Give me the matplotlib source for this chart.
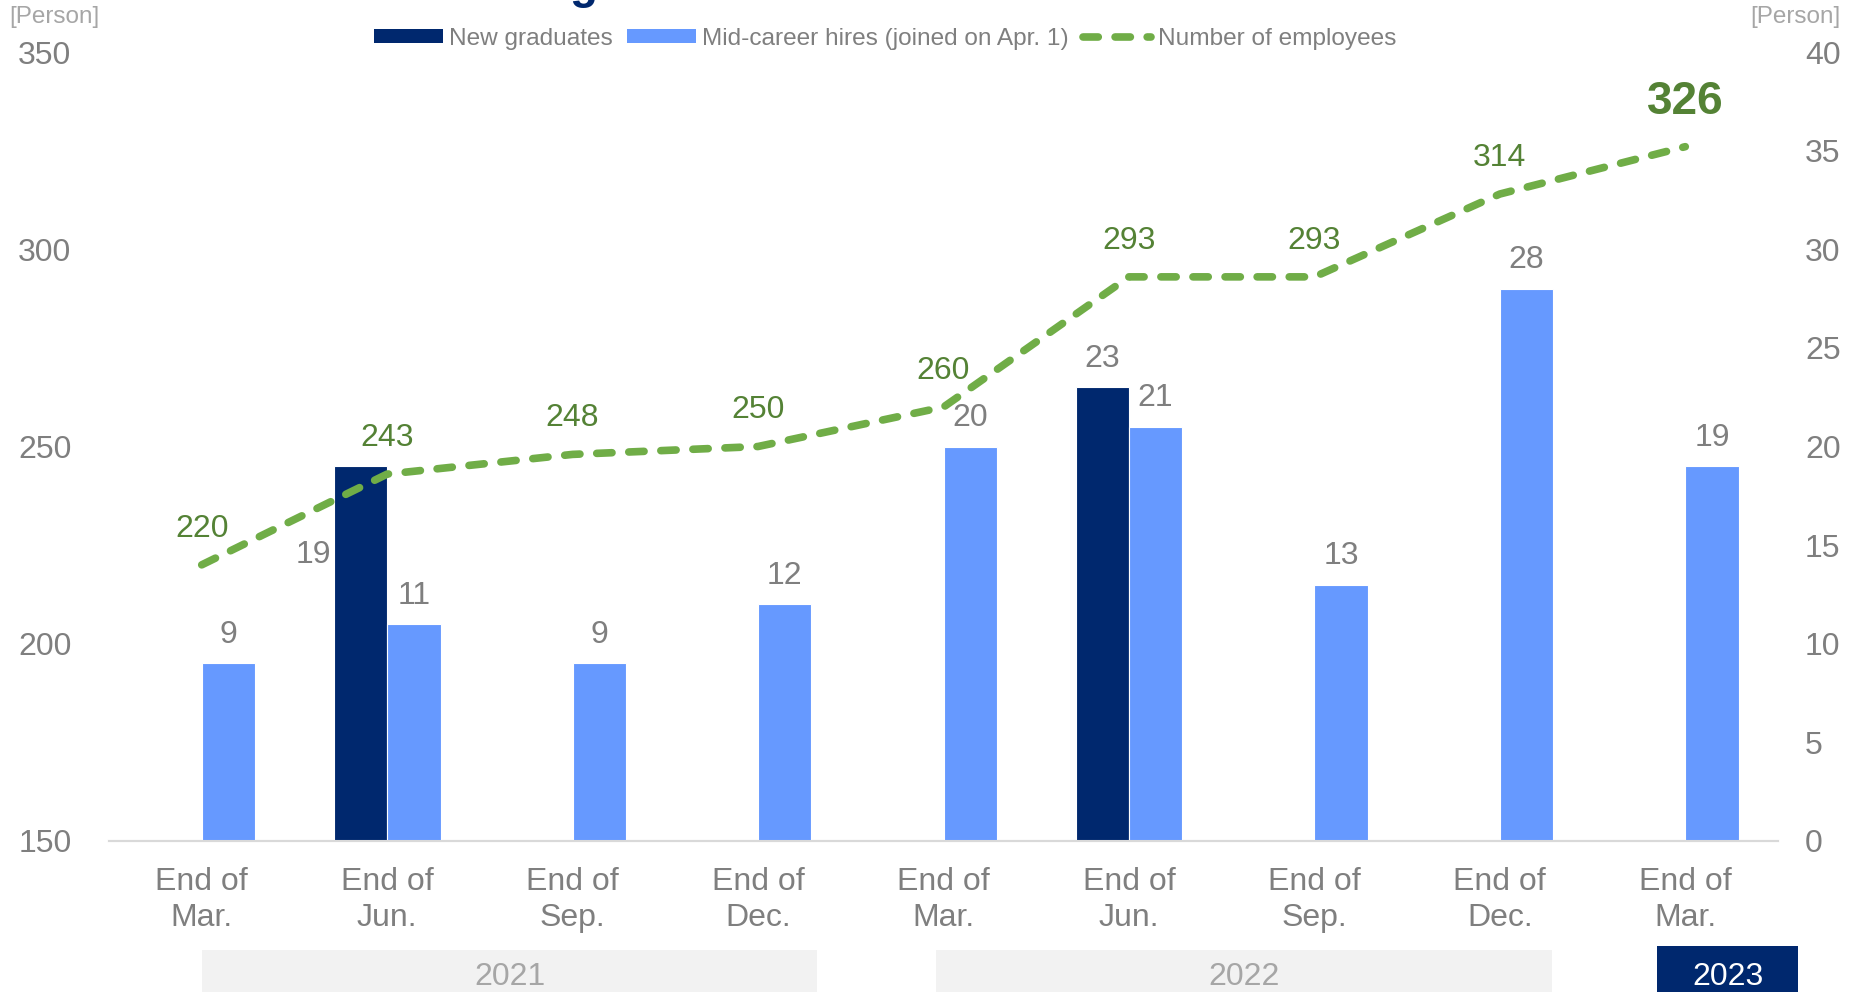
import matplotlib.pyplot as plt
from matplotlib.patches import Rectangle
import matplotlib.transforms as mtransforms

plt.rcParams['font.family'] = ['Liberation Sans', 'DejaVu Sans']

# data
quarters = ["End of\nMar.", "End of\nJun.", "End of\nSep.", "End of\nDec.",
            "End of\nMar.", "End of\nJun.", "End of\nSep.", "End of\nDec.",
            "End of\nMar."]
new_grads = [0, 19, 0, 0, 0, 23, 0, 0, 0]
mid_career = [9, 11, 9, 12, 20, 21, 13, 28, 19]
employees = [220, 243, 248, 250, 260, 293, 293, 314, 326]
years = ["2021", "2022", "2023"]

NAVY = '#00286E'
BLUE = '#6699FF'
GREEN = '#70AD47'
DKGREEN = '#548235'
GRAY = '#7F7F7F'
LTGRAY = '#A6A6A6'

fig = plt.figure(figsize=(18.62, 9.92), dpi=100)
ax = fig.add_axes([109/1862, 1-841/992, (1778-109)/1862, (841-52)/992])
ax2 = ax.twinx()

x = list(range(len(quarters)))
w = 0.288

# bars on the right axis
for i in x:
    if new_grads[i] > 0:
        ax2.bar(i - w/2, new_grads[i], w, color=NAVY, edgecolor='white', linewidth=0.8, zorder=2)
    ax2.bar(i + w/2, mid_career[i], w, color=BLUE, edgecolor='white', linewidth=0.8, zorder=2)

for i in x:
    ax2.annotate(str(mid_career[i]), (i + w/2, mid_career[i]), xytext=(0, 20.5),
                 textcoords='offset points', ha='center', va='center', fontsize=23, color=GRAY)
    if new_grads[i] > 0:
        if i == 1:
            ax2.annotate(str(new_grads[i]), (i - w, new_grads[i]), xytext=(-14.5, -64),
                         textcoords='offset points', ha='center', va='center', fontsize=23, color=GRAY)
        else:
            ax2.annotate(str(new_grads[i]), (i - w/2, new_grads[i]), xytext=(0, 20.5),
                         textcoords='offset points', ha='center', va='center', fontsize=23, color=GRAY)

ax2.set_ylim(0, 40)
ax.set_ylim(150, 350)
ax.set_xlim(-0.5, 8.5)
ax2.set_xlim(-0.5, 8.5)

# employees line: left-axis values mapped onto the right axis so it sits above the bars
emp_scaled = [(e - 150) / 200 * 40 for e in employees]
ax2.plot(x, emp_scaled, color=GREEN, linewidth=5.5, linestyle=(0, (2, 2.2)),
         dash_capstyle='round', zorder=4)
for i in x:
    if i == len(x) - 1:
        ax2.annotate(str(employees[i]), (i, emp_scaled[i]), xytext=(0, 32),
                     textcoords='offset points', ha='center', va='center',
                     fontsize=33, fontweight='bold', color=DKGREEN, zorder=5)
    else:
        ax2.annotate(str(employees[i]), (i, emp_scaled[i]), xytext=(0, 26),
                     textcoords='offset points', ha='center', va='center',
                     fontsize=23, color=DKGREEN, zorder=5)

ax.set_yticks([150, 200, 250, 300, 350])
ax2.set_yticks([0, 5, 10, 15, 20, 25, 30, 35, 40])
ax.set_xticks(x)
ax.set_xticklabels(quarters, linespacing=1.25)
ax.tick_params(axis='x', length=0, pad=19, labelsize=23, labelcolor=GRAY)
ax.tick_params(axis='y', length=0, pad=27, labelsize=23, labelcolor=GRAY)
ax2.tick_params(axis='y', length=0, pad=19.5, labelsize=23, labelcolor=GRAY)
for a in (ax, ax2):
    for s in ('top', 'left', 'right'):
        a.spines[s].set_visible(False)
    a.spines['bottom'].set_color('#D9D9D9')
    a.spines['bottom'].set_linewidth(1.5)
ax.set_zorder(0)
ax2.set_zorder(1)
ax.patch.set_visible(False)

fig.text(9.5/1862, 1-17/992, "[Person]", fontsize=17.5, color=LTGRAY, ha='left', va='center')
fig.text(1841/1862, 1-17/992, "[Person]", fontsize=17.5, color=LTGRAY, ha='right', va='center')

# cut-off title glyph at the top edge
fig.text(583/1862, 1 + 2/992, "g", fontsize=33, fontweight='bold', color=NAVY,
         ha='center', va='baseline')

# legend
from matplotlib.patches import Patch
from matplotlib.lines import Line2D
handles = [Patch(facecolor=NAVY), Patch(facecolor=BLUE),
           Line2D([0], [0], color=GREEN, linewidth=5.5, linestyle=(0, (2, 2.2)),
                  dash_capstyle='round')]
labels = ["New graduates", "Mid-career hires (joined on Apr. 1)", "Number of employees"]
leg = fig.legend(handles, labels, loc='center', bbox_to_anchor=(885/1862, 1-39/992),
                 ncol=3, frameon=False, fontsize=17.6, handlelength=2.8, handleheight=0.5,
                 handletextpad=0.25, columnspacing=0.6, borderpad=0)
for t in leg.get_texts():
    t.set_color(GRAY)

# year bands
trans = mtransforms.blended_transform_factory(ax.transData, fig.transFigure)
bands = [(0.0, 3.32, 950, '#F2F2F2', LTGRAY),
         (3.96, 7.28, 950, '#F2F2F2', LTGRAY),
         (7.85, 8.61, 946, NAVY, 'white')]
for (x0, x1, top, fc, tc), yr in zip(bands, years):
    r = Rectangle((x0, 0), x1 - x0, 1 - top/992, transform=trans, facecolor=fc,
                  edgecolor='none', clip_on=False)
    fig.add_artist(r)
    fig.text((x0 + x1) / 2, 1 - 977/992, yr, transform=trans, ha='center', va='center',
             fontsize=23, color=tc)

fig.savefig("out.png", dpi=100)
